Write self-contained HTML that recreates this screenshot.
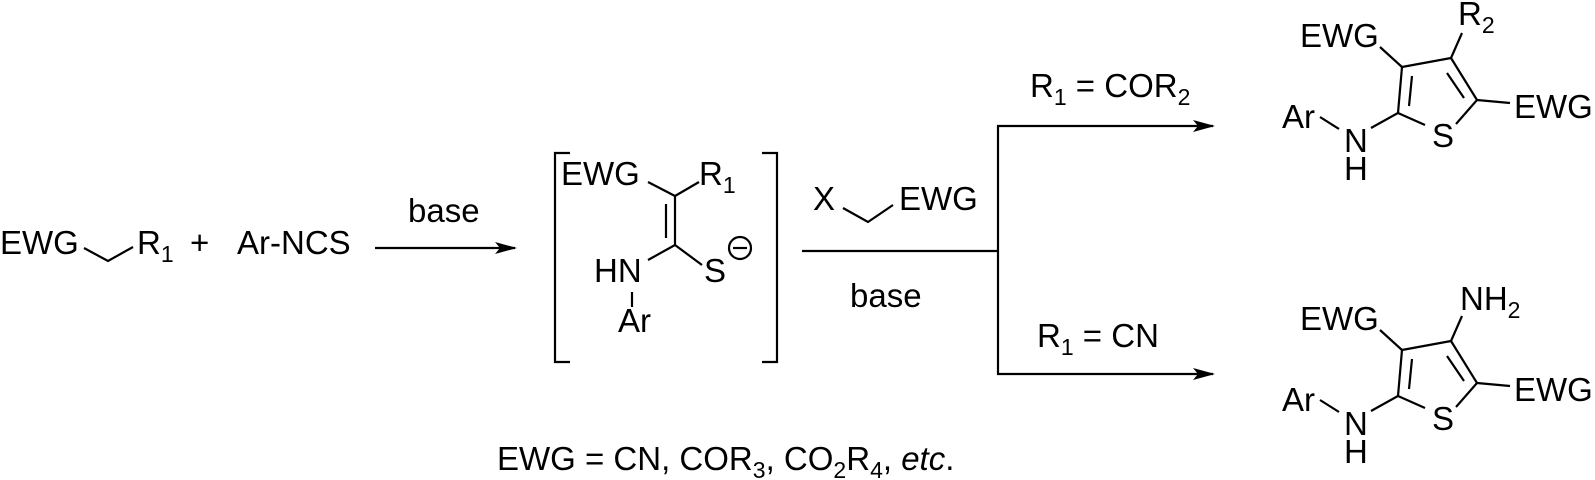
<!DOCTYPE html>
<html><head><meta charset="utf-8"><style>
html,body{margin:0;padding:0;background:#fff;}
svg{display:block;}
text{font-family:"Liberation Sans",Arial,sans-serif;font-size:33px;fill:#000;}
.s{font-size:23px;}
</style></head><body>
<svg width="1595" height="480" viewBox="0 0 1595 480" xmlns="http://www.w3.org/2000/svg">
<defs><marker id="ah" markerWidth="22" markerHeight="12" refX="20" refY="6" orient="auto" markerUnits="userSpaceOnUse"><path d="M0,0 L22,6 L0,12 L5,6 Z" fill="#000"/></marker></defs>
<g stroke="#000" stroke-width="2.2" fill="none">
<polyline points="84,248 108,261 133,247"/>
<line x1="375" y1="248" x2="515" y2="248" marker-end="url(#ah)"/>
<polyline points="570,153 555,153 555,362 570,362"/>
<polyline points="762,153 777,153 777,362 762,362"/>
<line x1="648" y1="182" x2="675" y2="196"/>
<line x1="675" y1="196" x2="699" y2="182"/>
<line x1="675" y1="196" x2="675" y2="245"/>
<line x1="666" y1="204" x2="666" y2="238"/>
<line x1="675" y1="245" x2="648" y2="260"/>
<line x1="675" y1="245" x2="702" y2="265"/>
<line x1="632" y1="292" x2="632" y2="307"/>
<circle cx="740" cy="248" r="11"/>
<line x1="733" y1="248" x2="747" y2="248"/>
<polyline points="843,208 868,222 893,205"/>
<line x1="802" y1="251" x2="998" y2="251"/>
<line x1="998" y1="125" x2="998" y2="375"/>
<line x1="997" y1="126" x2="1213" y2="126" marker-end="url(#ah)"/>
<line x1="997" y1="374" x2="1213" y2="374" marker-end="url(#ah)"/>
<g>
<line x1="1380" y1="47" x2="1402" y2="67"/>
<line x1="1402" y1="67" x2="1451" y2="58"/>
<line x1="1451" y1="58" x2="1462" y2="33"/>
<line x1="1451" y1="58" x2="1477" y2="100"/>
<line x1="1447" y1="73" x2="1464" y2="98"/>
<line x1="1477" y1="100" x2="1510" y2="103"/>
<line x1="1477" y1="100" x2="1456" y2="124"/>
<line x1="1425" y1="125" x2="1398" y2="113"/>
<line x1="1398" y1="113" x2="1402" y2="67"/>
<line x1="1409" y1="106" x2="1412" y2="76"/>
<line x1="1398" y1="113" x2="1371" y2="128"/>
<line x1="1320" y1="117" x2="1339" y2="129"/>
</g>
<g transform="translate(0,283)">
<line x1="1380" y1="47" x2="1402" y2="67"/>
<line x1="1402" y1="67" x2="1451" y2="58"/>
<line x1="1451" y1="58" x2="1462" y2="33"/>
<line x1="1451" y1="58" x2="1477" y2="100"/>
<line x1="1447" y1="73" x2="1464" y2="98"/>
<line x1="1477" y1="100" x2="1510" y2="103"/>
<line x1="1477" y1="100" x2="1456" y2="124"/>
<line x1="1425" y1="125" x2="1398" y2="113"/>
<line x1="1398" y1="113" x2="1402" y2="67"/>
<line x1="1409" y1="106" x2="1412" y2="76"/>
<line x1="1398" y1="113" x2="1371" y2="128"/>
<line x1="1320" y1="117" x2="1339" y2="129"/>
</g>
</g>
<text x="0" y="254">EWG</text>
<text x="137" y="254">R<tspan class="s" dy="8">1</tspan></text>
<text x="190" y="254">+</text>
<text x="237" y="254">Ar-NCS</text>
<text x="408" y="222">base</text>
<text x="561" y="185">EWG</text>
<text x="699" y="185">R<tspan class="s" dy="8">1</tspan></text>
<text x="594" y="282">HN</text>
<text x="704" y="282">S</text>
<text x="618" y="332">Ar</text>
<text x="813" y="210">X</text>
<text x="899" y="210">EWG</text>
<text x="850" y="307">base</text>
<text x="1030" y="97">R<tspan class="s" dy="8">1</tspan><tspan dy="-8"> = COR</tspan><tspan class="s" dy="8">2</tspan></text>
<text x="1037" y="347">R<tspan class="s" dy="8">1</tspan><tspan dy="-8"> = CN</tspan></text>
<g>
<text x="1300" y="47">EWG</text>
<text x="1458" y="25">R<tspan class="s" dy="8">2</tspan></text>
<text x="1514" y="118">EWG</text>
<text x="1432" y="147">S</text>
<text x="1344" y="152">N</text>
<text x="1344" y="180">H</text>
<text x="1282" y="128">Ar</text>
</g>
<g transform="translate(0,283)">
<text x="1300" y="47">EWG</text>
<text x="1460" y="27">NH<tspan class="s" dy="8">2</tspan></text>
<text x="1514" y="118">EWG</text>
<text x="1432" y="147">S</text>
<text x="1344" y="152">N</text>
<text x="1344" y="180">H</text>
<text x="1282" y="128">Ar</text>
</g>
<text x="497" y="470">EWG = CN, COR<tspan class="s" dy="8">3</tspan><tspan dy="-8">, CO</tspan><tspan class="s" dy="8">2</tspan><tspan dy="-8">R</tspan><tspan class="s" dy="8">4</tspan><tspan dy="-8">, </tspan><tspan font-style="italic">etc</tspan>.</text>
</svg>
</body></html>
